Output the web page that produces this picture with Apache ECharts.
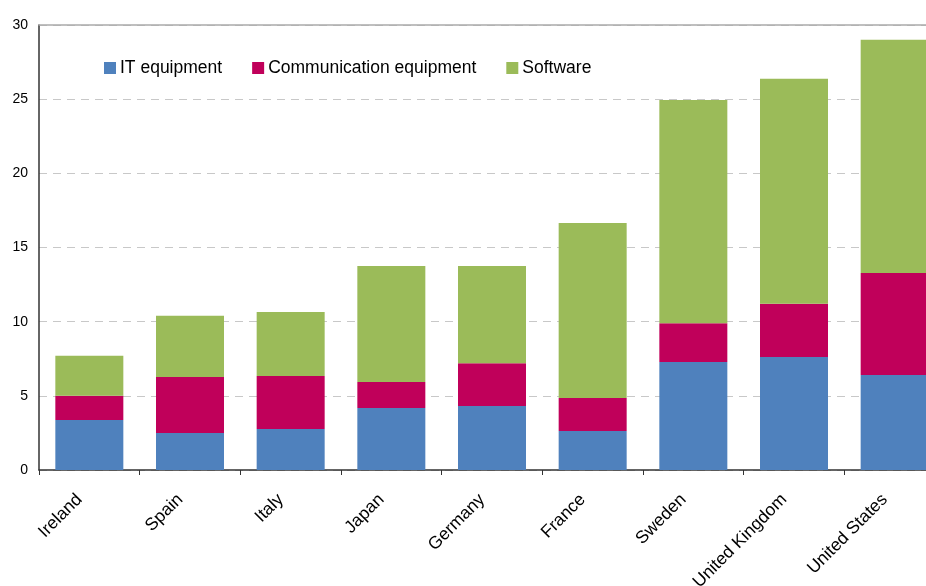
<!DOCTYPE html>
<html><head><meta charset="utf-8">
<script src="https://cdn.jsdelivr.net/npm/echarts@6/dist/echarts.min.js"></script>
<style>html,body{margin:0;padding:0;background:#fff;overflow:hidden}#c{width:926px;height:586px}</style>
</head><body><div id="c"></div>
<script>
var categories = ["Ireland","Spain","Italy","Japan","Germany","France","Sweden","United Kingdom","United States"];
var itEquipment = [3.37, 2.5, 2.76, 4.18, 4.32, 2.63, 7.28, 7.62, 6.4];
var commEquipment = [1.63, 3.77, 3.58, 1.75, 2.88, 2.23, 2.62, 3.58, 6.88];
var software = [2.7, 4.13, 4.31, 7.83, 6.56, 11.8, 15.05, 15.17, 15.72];
var yTicks = [0, 5, 10, 15, 20, 25, 30];
var seriesNames = ["IT equipment","Communication equipment","Software"];
var colors = ["#4F81BD","#C0005A","#9BBB59"];

var chart = echarts.init(document.getElementById('c'));
var font = "Liberation Sans, Arial, sans-serif";
function mk(name, data, color){
  return {name:name, type:'bar', stack:'total', data:data, barWidth:68,
    itemStyle:{color:color}, xAxisIndex:0, yAxisIndex:0};
}
chart.setOption({
  animation:false,
  textStyle:{fontFamily:font},
  grid:{left:39, top:25, height:445, width:906, containLabel:false, outerBoundsMode:'none'},
  legend:{
    data:seriesNames, left:99, top:54, itemWidth:12, itemHeight:12, itemGap:30,
    icon:'rect',
    textStyle:{fontFamily:font, fontSize:17.5, color:'#000', padding:[0,0,0,-1]}
  },
  xAxis:[{
    type:'category', data:categories, position:'bottom',
    axisLine:{lineStyle:{color:'#333', width:1.5}},
    axisTick:{show:true, alignWithLabel:false, length:5, lineStyle:{color:'#333'}},
    axisLabel:{rotate:45, fontFamily:font, fontSize:17.5, color:'#000', margin:17, interval:0,
      padding:[0,14,0,0]}
  },{
    type:'category', data:categories, position:'top',
    axisLine:{show:true, lineStyle:{color:'#aaa', width:1.5}},
    axisTick:{show:false}, axisLabel:{show:false}
  }],
  yAxis:{
    type:'value', min:yTicks[0], max:yTicks[yTicks.length-1], interval:5,
    axisLine:{show:true, lineStyle:{color:'#333', width:1.5}},
    axisTick:{show:false},
    axisLabel:{fontFamily:font, fontSize:14, color:'#000', margin:11},
    splitLine:{show:true, lineStyle:{color:'#c8c8c8', type:[8,6], width:1}}
  },
  series:[
    mk(seriesNames[0], itEquipment, colors[0]),
    mk(seriesNames[1], commEquipment, colors[1]),
    mk(seriesNames[2], software, colors[2])
  ]
});
</script></body></html>
